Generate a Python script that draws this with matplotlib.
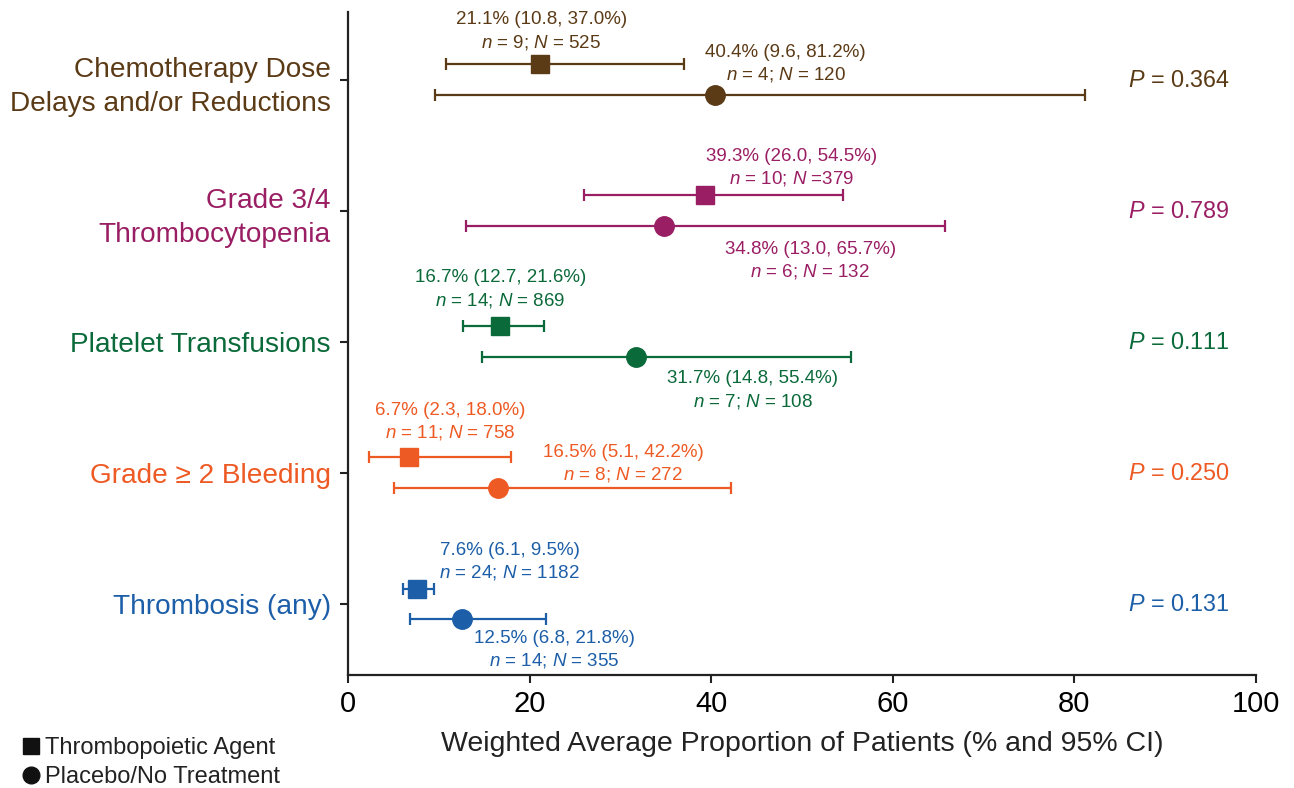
import matplotlib
matplotlib.use("Agg")
import matplotlib.pyplot as plt
from matplotlib.lines import Line2D

plt.rcParams['font.family'] = ['Liberation Sans', 'DejaVu Sans']
plt.rcParams['mathtext.fontset'] = 'custom'
plt.rcParams['mathtext.rm'] = 'Liberation Sans'
plt.rcParams['mathtext.it'] = 'Liberation Sans:italic'

# ---------------- data ----------------
categories = ["Chemotherapy Dose\nDelays and/or Reductions",
              "Grade 3/4\nThrombocytopenia",
              "Platelet Transfusions",
              "Grade \u2265 2 Bleeding",
              "Thrombosis (any)"]
colors = ["#5B3A16", "#9A1E63", "#0B6A3A", "#EE5A24", "#1C5EA8"]

tpo_est = [21.1, 39.3, 16.7, 6.7, 7.6]
tpo_lo = [10.8, 26.0, 12.7, 2.3, 6.1]
tpo_hi = [37.0, 54.5, 21.6, 18.0, 9.5]
tpo_n = [9, 10, 14, 11, 24]
tpo_N = [525, 379, 869, 758, 1182]

pbo_est = [40.4, 34.8, 31.7, 16.5, 12.5]
pbo_lo = [9.6, 13.0, 14.8, 5.1, 6.8]
pbo_hi = [81.2, 65.7, 55.4, 42.2, 21.8]
pbo_n = [4, 6, 7, 8, 14]
pbo_N = [120, 132, 108, 272, 355]

p_values = ["0.364", "0.789", "0.111", "0.250", "0.131"]

xticks = [0, 20, 40, 60, 80, 100]
xlabel = "Weighted Average Proportion of Patients (% and 95% CI)"
legend_labels = ["Thrombopoietic Agent", "Placebo/No Treatment"]

# ---------------- layout (label anchors, relative to category row) ----------------
tpo_lab_x = [21.3, 48.9, 16.8, 11.3, 17.8]
tpo_lab_y = [-0.46, -0.42, -0.49, -0.48, -0.41]
pbo_lab_x = [48.2, 50.9, 44.6, 30.3, 22.7]
pbo_lab_y = [-0.21, 0.29, 0.28, -0.16, 0.26]
line_gap = 0.17
sq_off = -0.12
ci_off = 0.11

fig = plt.figure(figsize=(12.94, 7.88), dpi=100)
ax = fig.add_axes([348/1294, 1 - 675/788, 908/1294, 663/788])

ypos = list(range(len(categories)))
for i in ypos:
    c = colors[i]
    ax.errorbar(tpo_est[i], i + sq_off,
                xerr=[[tpo_est[i] - tpo_lo[i]], [tpo_hi[i] - tpo_est[i]]],
                fmt='s', color=c, ms=13, elinewidth=1.6, capsize=4.5, capthick=1.6)
    ax.errorbar(pbo_est[i], i + ci_off,
                xerr=[[pbo_est[i] - pbo_lo[i]], [pbo_hi[i] - pbo_est[i]]],
                fmt='o', color=c, ms=14, elinewidth=1.6, capsize=4.5, capthick=1.6)
    l1 = f"{tpo_est[i]}% ({tpo_lo[i]}, {tpo_hi[i]}%)"
    sep = " =" if i == 1 else " = "
    l2 = f"$n$ = {tpo_n[i]}; $N${sep}{tpo_N[i]}"
    ax.text(tpo_lab_x[i], i + tpo_lab_y[i], l1, color=c, fontsize=13.5, ha='center', va='center')
    ax.text(tpo_lab_x[i], i + tpo_lab_y[i] + line_gap, l2, color=c, fontsize=13.5, ha='center', va='center')
    m1 = f"{pbo_est[i]}% ({pbo_lo[i]}, {pbo_hi[i]}%)"
    m2 = f"$n$ = {pbo_n[i]}; $N$ = {pbo_N[i]}"
    ax.text(pbo_lab_x[i], i + pbo_lab_y[i], m1, color=c, fontsize=13.5, ha='center', va='center')
    ax.text(pbo_lab_x[i], i + pbo_lab_y[i] + line_gap, m2, color=c, fontsize=13.5, ha='center', va='center')
    ax.text(97.1, i, f"$P$ = {p_values[i]}", color=c, fontsize=16.8, ha='right', va='center')

ax.set_xlim(0, 100)
ax.set_ylim(4.54, -0.52)
ax.set_xticks(xticks)
ax.set_xticklabels([str(t) for t in xticks], fontsize=21)
ax.set_yticks(ypos)
ax.set_yticklabels(categories, fontsize=20.2, ha='right', multialignment='right', linespacing=1.38)
for lab, c in zip(ax.get_yticklabels(), colors):
    lab.set_color(c)
ax.tick_params(axis='both', direction='out', length=6, width=1.5, color='#222222')
ax.tick_params(axis='y', pad=6.5)
ax.tick_params(axis='x', pad=5)
ax.set_xlabel(xlabel, fontsize=20.5, color='#222222', labelpad=9)
for s in ['top', 'right']:
    ax.spines[s].set_visible(False)
for s in ['left', 'bottom']:
    ax.spines[s].set_linewidth(1.6)
    ax.spines[s].set_color('#222222')

handles = [Line2D([], [], marker='s', color='#111111', ls='none', ms=11),
           Line2D([], [], marker='o', color='#111111', ls='none', ms=12)]
fig.legend(handles, legend_labels, loc='upper left', bbox_to_anchor=(0/1294, 1 - 718/788),
           frameon=False, fontsize=17, handletextpad=0.1, labelspacing=0.3,
           handlelength=1.0, borderpad=0.3, labelcolor='#222222')

fig.savefig("out.png", dpi=100)
